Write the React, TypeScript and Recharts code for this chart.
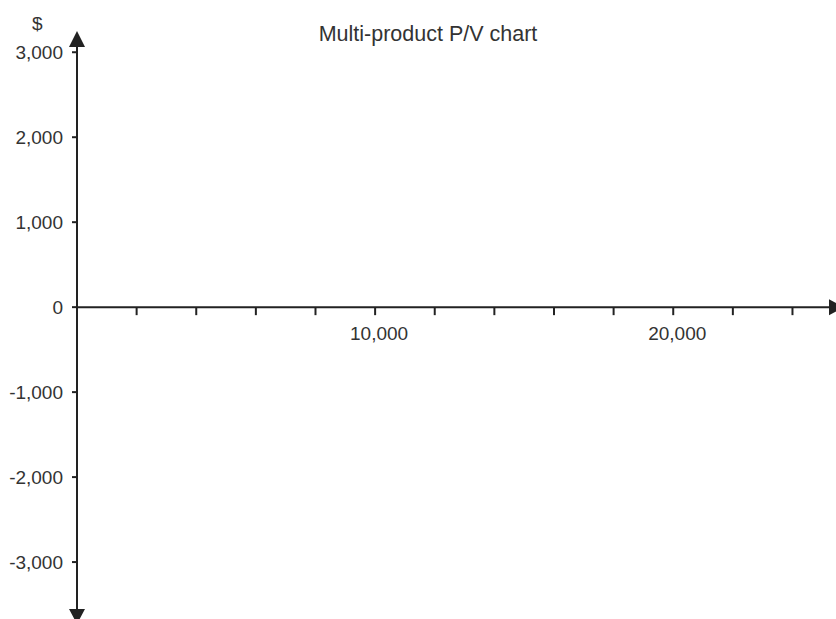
import { LineChart, XAxis, YAxis, ReferenceLine, ReferenceDot } from 'recharts'

const TITLE = 'Multi-product P/V chart'
const Y_UNIT = '$'

const X_DOMAIN = [0, 25460]
const Y_DOMAIN = [-3670, 3250]
const Y_TICKS = [-3000, -2000, -1000, 0, 1000, 2000, 3000]
const X_TICKS = [2000, 4000, 6000, 8000, 10000, 12000, 14000, 16000, 18000, 20000, 22000, 24000]
const X_LABELED = [10000, 20000]

const FONT = '"Liberation Sans", Arial, sans-serif'
const INK = '#222'
const TEXT = '#333'

const fmt = (v: number) => v.toLocaleString('en-US')

function XAxisLine(props: any) {
  const { x1, y1, x2 } = props
  const right = Math.max(x1, x2)
  const left = Math.min(x1, x2)
  return (
    <g>
      <line x1={left} y1={y1} x2={right - 6} y2={y1} stroke={INK} strokeWidth={2} />
      <polygon points={`${right + 8},${y1} ${right - 7},${y1 - 8} ${right - 7},${y1 + 8}`} fill={INK} />
    </g>
  )
}

function YAxisLine(props: any) {
  const { x1, y1, y2 } = props
  const top = Math.min(y1, y2)
  const bottom = Math.max(y1, y2)
  return (
    <g>
      <line x1={x1} y1={top + 6} x2={x1} y2={bottom - 2} stroke={INK} strokeWidth={2} />
      <polygon points={`${x1},${top} ${x1 - 8},${top + 16} ${x1 + 8},${top + 16}`} fill={INK} />
      <polygon points={`${x1},${bottom + 5} ${x1 - 8},${bottom - 10} ${x1 + 8},${bottom - 10}`} fill={INK} />
    </g>
  )
}

function makeXTick(value: number) {
  return (props: any) => {
    const { cx, cy } = props
    return (
      <g>
        <line x1={cx} y1={cy} x2={cx} y2={cy + 8} stroke={INK} strokeWidth={2} />
        {X_LABELED.includes(value) && (
          <text x={cx + 4} y={cy + 33} textAnchor="middle" fill={TEXT} fontSize={19} fontFamily={FONT}>
            {fmt(value)}
          </text>
        )}
      </g>
    )
  }
}

export default function App() {
  return (
    <div style={{ position: 'absolute', left: 0, top: 0, width: 836, height: 619, background: '#fff' }}>
      <div
        style={{
          position: 'absolute', left: 10, top: 24, width: 836, textAlign: 'center',
          fontFamily: FONT, fontSize: 21.5, lineHeight: '21.5px', color: TEXT,
        }}
      >
        {TITLE}
      </div>
      <div
        style={{
          position: 'absolute', left: 32, top: 14, fontFamily: FONT, fontSize: 19,
          lineHeight: '19px', color: TEXT,
        }}
      >
        {Y_UNIT}
      </div>
      <LineChart width={836} height={619} margin={{ top: 31, right: 0, bottom: 0, left: 0 }}>
        <XAxis type="number" dataKey="x" domain={X_DOMAIN} hide allowDataOverflow />
        <YAxis
          type="number"
          domain={Y_DOMAIN}
          ticks={Y_TICKS}
          width={77}
          axisLine={false}
          tickSize={5}
          tickMargin={9}
          tickLine={{ stroke: INK, strokeWidth: 2 }}
          tickFormatter={fmt}
          tick={{ fill: TEXT, fontSize: 19, fontFamily: FONT }}
          allowDataOverflow
          interval={0}
        />
        <ReferenceLine y={0} shape={XAxisLine} ifOverflow="visible" />
        <ReferenceLine x={0} shape={YAxisLine} ifOverflow="visible" />
        {X_TICKS.map((v) => (
          <ReferenceDot key={v} x={v} y={0} r={0} shape={makeXTick(v)} ifOverflow="visible" />
        ))}
      </LineChart>
    </div>
  )
}
